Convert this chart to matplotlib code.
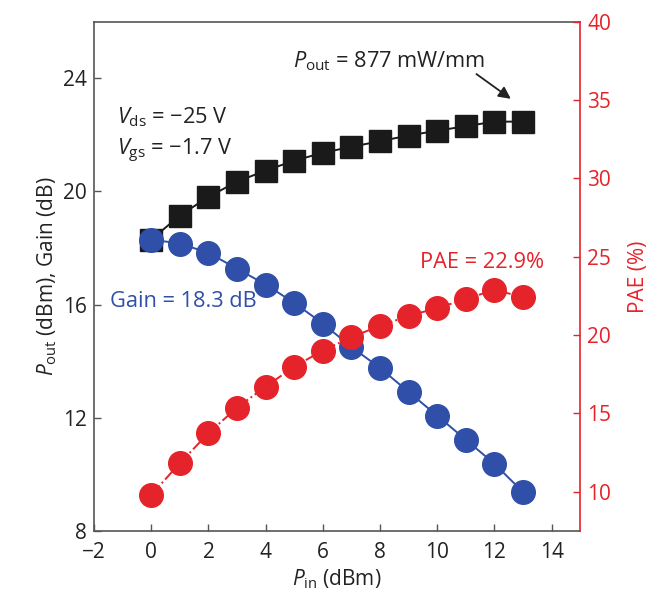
import matplotlib
matplotlib.use("Agg")
import matplotlib.pyplot as plt

plt.rcParams['font.family'] = ['Open Sans', 'DejaVu Sans']
plt.rcParams['mathtext.fontset'] = 'custom'
plt.rcParams['mathtext.rm'] = 'Open Sans'
plt.rcParams['mathtext.it'] = 'Open Sans:italic'

# data
pin = [0, 1, 2, 3, 4, 5, 6, 7, 8, 9, 10, 11, 12, 13]
pout = [18.30, 19.15, 19.81, 20.35, 20.74, 21.09, 21.37, 21.58, 21.78, 21.98, 22.15, 22.31, 22.47, 22.47]
gain = [18.30, 18.16, 17.83, 17.27, 16.71, 16.06, 15.33, 14.50, 13.76, 12.91, 12.07, 11.22, 10.37, 9.37]
pae = [9.80, 11.82, 13.74, 15.37, 16.71, 17.99, 19.01, 19.87, 20.59, 21.23, 21.72, 22.30, 22.89, 22.42]

left_ticks = [8, 12, 16, 20, 24]
right_ticks = [10, 15, 20, 25, 30, 35, 40]
x_ticks = [-2, 0, 2, 4, 6, 8, 10, 12, 14]

black = '#1a1a1a'
blue = '#2f4fa8'
red = '#e5232a'
axc = '#555555'
fs = 15
fs_txt = 15.7

fig = plt.figure(figsize=(6.67, 6.06), dpi=100)
ax = fig.add_axes([0.141, 0.124, 0.729, 0.840])
ax2 = ax.twinx()

ax.plot(pin, pout, '-', color=black, lw=1.4, marker='s', ms=15.5, mfc=black, mec=black, zorder=3)
ax.plot(pin, gain, '-', color=blue, lw=1.4, marker='o', ms=17, mfc=blue, mec=blue, zorder=3)
ax2.plot(pin, pae, '-.', color=red, lw=1.4, marker='o', ms=17, mfc=red, mec=red)

ax.set_xlim(-2, 15)
ax.set_ylim(8, 26)
ax2.set_ylim(7.5, 40)
ax.set_xticks(x_ticks)
ax.set_yticks(left_ticks)
ax2.set_yticks(right_ticks)
ax.set_xticklabels([str(v).replace('-', '\u2212') for v in x_ticks])

ax.tick_params(axis='both', direction='in', length=5, width=1, color=axc, labelsize=fs, labelcolor='#222222', pad=5)
ax.tick_params(axis='x', pad=8)
ax.tick_params(axis='y', right=False)
ax2.tick_params(axis='y', direction='in', length=5, width=1, color=red, labelsize=fs, labelcolor=red, pad=5)

for s in ['left', 'bottom', 'top']:
    ax.spines[s].set_color(axc)
    ax.spines[s].set_linewidth(1.2)
ax.spines['right'].set_visible(False)
for s in ['left', 'bottom', 'top']:
    ax2.spines[s].set_visible(False)
ax2.spines['right'].set_color(red)
ax2.spines['right'].set_linewidth(1.2)

ax.set_xlabel(r'$\mathit{P}_{\mathrm{in}}$ (dBm)', fontsize=fs, color='#222222', labelpad=3)
ax.set_ylabel(r'$\mathit{P}_{\mathrm{out}}$ (dBm), Gain (dB)', fontsize=fs, color='#222222', labelpad=3)
ax2.set_ylabel('PAE (%)', fontsize=fs, color=red, labelpad=12)

ax.text(-1.2, 22.62, '$\\mathit{V}_{\\mathrm{ds}}$ = \u221225 V', fontsize=fs_txt, color='#222222', va='center')
ax.text(-1.2, 21.42, '$\\mathit{V}_{\\mathrm{gs}}$ = \u22121.7 V', fontsize=fs_txt, color='#222222', va='center')
ax.text(-1.43, 16.1, 'Gain = 18.3 dB', fontsize=fs_txt, color=blue, va='center')
ax.text(13.73, 17.5, 'PAE = 22.9%', fontsize=fs_txt, color=red, va='center', ha='right')
ax.text(4.95, 24.6, '$\\mathit{P}_{\\mathrm{out}}$ = 877 mW/mm', fontsize=fs_txt, color='#222222', va='center')
ax.annotate('', xy=(12.65, 23.22), xytext=(11.29, 24.21),
            arrowprops=dict(arrowstyle='-|>', color='#222222', lw=1.3, mutation_scale=18))

fig.savefig('out.png', dpi=100, facecolor='white')
